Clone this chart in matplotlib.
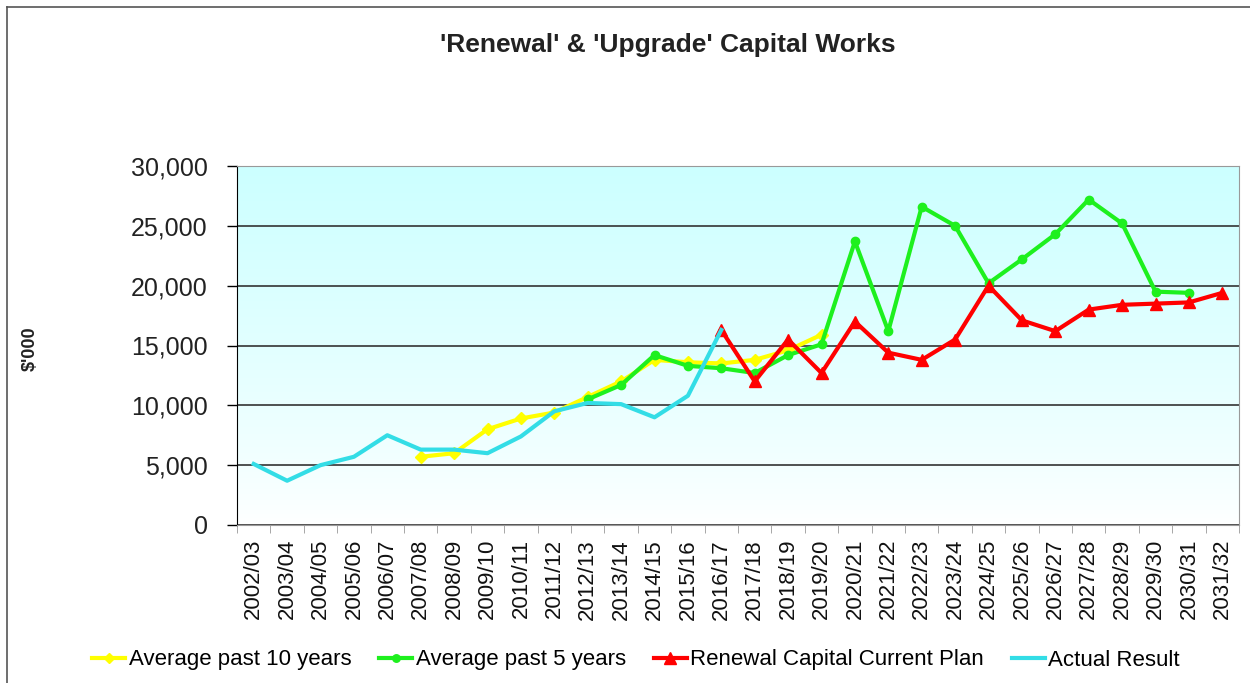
import numpy as np
import matplotlib
matplotlib.use("Agg")
import matplotlib.pyplot as plt
from matplotlib.lines import Line2D

plt.rcParams['font.family'] = ['Liberation Sans', 'DejaVu Sans']

# categorias (anos financieros)
years = ['2002/03', '2003/04', '2004/05', '2005/06', '2006/07', '2007/08',
         '2008/09', '2009/10', '2010/11', '2011/12', '2012/13', '2013/14',
         '2014/15', '2015/16', '2016/17', '2017/18', '2018/19', '2019/20',
         '2020/21', '2021/22', '2022/23', '2023/24', '2024/25', '2025/26',
         '2026/27', '2027/28', '2028/29', '2029/30', '2030/31', '2031/32']

nan = np.nan
# series ($'000)
avg10 = [nan, nan, nan, nan, nan, 5700, 6000, 8000, 8900, 9400,
         10700, 12000, 13800, 13600, 13500, 13800, 14600, 15900, nan, nan,
         nan, nan, nan, nan, nan, nan, nan, nan, nan, nan]
avg5 = [nan, nan, nan, nan, nan, nan, nan, nan, nan, nan,
        10500, 11700, 14200, 13300, 13100, 12700, 14200, 15100, 23700, 16200,
        26600, 25000, 20200, 22200, 24300, 27200, 25200, 19500, 19400, nan]
renewal = [nan, nan, nan, nan, nan, nan, nan, nan, nan, nan,
           nan, nan, nan, nan, 16300, 12000, 15500, 12700, 17000, 14400,
           13800, 15500, 20000, 17100, 16200, 18000, 18400, 18500, 18600, 19400]
actual = [5100, 3700, 5000, 5700, 7500, 6300, 6300, 6000, 7400, 9500,
          10200, 10100, 9000, 10800, 16300, nan, nan, nan, nan, nan,
          nan, nan, nan, nan, nan, nan, nan, nan, nan, nan]

x = np.arange(len(years))

fig = plt.figure(figsize=(12.5, 6.83), dpi=100)
ax = fig.add_axes([237/1250, 1-525/683, (1239-237)/1250, (525-166)/683])

# fondo degradado cian -> blanco
grad = np.linspace(0, 1, 256).reshape(-1, 1)
top = np.array([0.80, 1.0, 1.0])
bot = np.array([1.0, 1.0, 1.0])
img = bot + (top - bot) * grad[:, :, None] ** 0.8
ax.imshow(img, extent=(-0.5, len(years)-0.5, 0, 30000), origin='lower',
          aspect='auto', zorder=0)

ax.plot(x, avg10, '-D', color='#ffff00', lw=3, ms=6, label='Average past 10 years', zorder=3)
ax.plot(x, avg5, '-o', color='#1ef01e', lw=3, ms=6, label='Average past 5 years', zorder=4)
ax.plot(x, renewal, '-^', color='#ff0000', lw=3, ms=9, label='Renewal Capital Current Plan', zorder=5)
ax.plot(x, actual, '-', color='#33dde6', lw=3, label='Actual Result', zorder=6)

ax.set_xlim(-0.5, len(years)-0.5)
ax.set_ylim(0, 30000)
ax.set_yticks(np.arange(0, 30001, 5000))
ax.set_yticklabels(['{:,}'.format(v) for v in range(0, 30001, 5000)], fontsize=18, color='#222222')
ax.yaxis.grid(True, color='#333333', lw=1.2)
for gl in ax.get_ygridlines():
    gl.set_zorder(2)
ax.tick_params(axis='y', length=7, width=1, direction='out', pad=14)

ax.set_xticks(x)
ax.set_xticklabels(years, rotation=90, fontsize=16, color='#111111')
ax.set_xticks(np.arange(-0.5, len(years), 1), minor=True)
ax.tick_params(axis='x', which='major', length=0, pad=10)
ax.tick_params(axis='x', which='minor', length=6, color='#999999', direction='out')

for s in ['top', 'right', 'bottom']:
    ax.spines[s].set_color('#999999')
ax.spines['left'].set_color('black')

ax.set_ylabel("$'000", fontsize=13, fontweight='bold', color='#222222')
ax.yaxis.set_label_coords(-0.198, 0.49)

fig.text(668/1250, 1-45/683, "'Renewal' & 'Upgrade' Capital Works",
         ha='center', va='center', fontsize=19, fontweight='bold', color='#222222')

fig.legend(loc='center', bbox_to_anchor=(636/1250, 1-660/683), ncol=4,
           frameon=False, fontsize=16, handlelength=1.5, handletextpad=0.15,
           columnspacing=1.25, markerscale=0.9)

# borde de la figura (arriba e izquierda)
fig.add_artist(Line2D([7/1250, 1], [1-7/683, 1-7/683], color='#555555', lw=1.2))
fig.add_artist(Line2D([7/1250, 7/1250], [0, 1-7/683], color='#555555', lw=1.2))

fig.savefig('out.png', dpi=100)
